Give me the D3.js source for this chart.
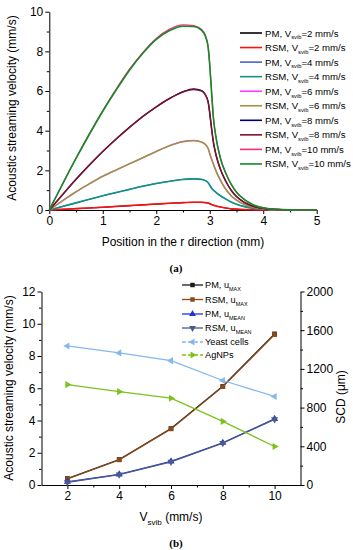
<!DOCTYPE html>
<html>
<head>
<meta charset="utf-8">
<script src="https://cdn.jsdelivr.net/npm/d3@7"></script>
<style>
  body { margin: 0; background: #fff; }
  svg { display: block; font-family: "Liberation Sans", Arial, sans-serif; }
  .axis path, .axis line { stroke: #000; }
  .axis text { font-size: 12px; fill: #000; font-family: "Liberation Sans", Arial, sans-serif; }
</style>
</head>
<body>
<svg id="fig" width="353" height="550"></svg>
<script>
// ---- panel (a): streaming velocity along r ----
var rPositions = [0, 0.25, 0.5, 0.75, 1, 1.25, 1.5, 1.75, 2, 2.25, 2.5, 2.7, 2.85, 2.92, 2.97, 3.0, 3.03, 3.07, 3.12, 3.2, 3.3, 3.4, 3.5, 3.65, 3.8, 4.0, 4.2, 4.5, 5];
var pm2   = [0, 0.03, 0.07, 0.10, 0.14, 0.18, 0.22, 0.26, 0.30, 0.34, 0.37, 0.39, 0.39, 0.37, 0.35, 0.32, 0.28, 0.24, 0.20, 0.15, 0.10, 0.06, 0.04, 0.02, 0.01, 0, 0, 0, 0];
var rsm2  = [0, 0.03, 0.07, 0.10, 0.14, 0.18, 0.22, 0.26, 0.30, 0.34, 0.37, 0.39, 0.39, 0.37, 0.35, 0.32, 0.28, 0.24, 0.20, 0.15, 0.10, 0.06, 0.04, 0.02, 0.01, 0, 0, 0, 0];
var pm4   = [0, 0.18, 0.36, 0.54, 0.72, 0.88, 1.04, 1.20, 1.34, 1.45, 1.55, 1.58, 1.55, 1.48, 1.38, 1.25, 1.12, 1.00, 0.88, 0.72, 0.55, 0.40, 0.29, 0.17, 0.09, 0.04, 0.01, 0, 0];
var rsm4  = [0, 0.18, 0.36, 0.54, 0.72, 0.88, 1.04, 1.20, 1.34, 1.45, 1.54, 1.57, 1.54, 1.48, 1.38, 1.25, 1.12, 1.00, 0.88, 0.72, 0.55, 0.40, 0.29, 0.17, 0.09, 0.04, 0.01, 0, 0];
var pm6   = [0, 0.47, 0.92, 1.32, 1.70, 2.02, 2.33, 2.64, 2.95, 3.25, 3.46, 3.51, 3.43, 3.30, 3.10, 2.85, 2.60, 2.30, 1.95, 1.50, 1.05, 0.72, 0.50, 0.28, 0.15, 0.06, 0.02, 0, 0];
var rsm6  = [0, 0.47, 0.92, 1.32, 1.70, 2.02, 2.33, 2.64, 2.95, 3.24, 3.44, 3.49, 3.42, 3.30, 3.10, 2.85, 2.60, 2.30, 1.95, 1.50, 1.05, 0.72, 0.50, 0.28, 0.15, 0.06, 0.02, 0, 0];
var pm8   = [0, 0.78, 1.55, 2.27, 2.95, 3.58, 4.17, 4.72, 5.20, 5.63, 5.97, 6.11, 6.02, 5.80, 5.45, 4.90, 4.20, 3.40, 2.75, 2.05, 1.45, 1.00, 0.68, 0.38, 0.20, 0.08, 0.03, 0.005, 0];
var rsm8  = [0, 0.78, 1.55, 2.27, 2.95, 3.58, 4.17, 4.72, 5.20, 5.62, 5.95, 6.08, 6.00, 5.80, 5.45, 4.90, 4.20, 3.40, 2.75, 2.05, 1.45, 1.00, 0.68, 0.38, 0.20, 0.08, 0.03, 0.005, 0];
var pm10  = [0, 1.32, 2.62, 3.85, 5.01, 6.10, 7.10, 7.95, 8.65, 9.12, 9.34, 9.30, 9.10, 8.80, 8.25, 7.35, 6.15, 4.65, 3.65, 2.62, 1.86, 1.30, 0.90, 0.52, 0.28, 0.11, 0.04, 0.005, 0];
var rsm10 = [0, 1.32, 2.60, 3.82, 4.98, 6.05, 7.05, 7.90, 8.60, 9.05, 9.27, 9.25, 9.05, 8.75, 8.20, 7.30, 6.10, 4.60, 3.60, 2.60, 1.85, 1.30, 0.90, 0.52, 0.28, 0.11, 0.04, 0.005, 0];
var velocityLabels = ["2", "2", "4", "4", "6", "6", "8", "8", "10", "10"];
var methodLabels = ["PM", "RSM", "PM", "RSM", "PM", "RSM", "PM", "RSM", "PM", "RSM"];
var profileColors = ["#000000", "#ff1010", "#4a63c8", "#0f9484", "#ff40ff", "#a09048", "#00007a", "#7c1428", "#ff2a78", "#148a2a"];
var profiles = [pm2, rsm2, pm4, rsm4, pm6, rsm6, pm8, rsm8, pm10, rsm10];
var rTicks = [0, 1, 2, 3, 4, 5];
var velTicksA = [0, 2, 4, 6, 8, 10];

// ---- panel (b): summary against V_svib ----
var vsvib = [2, 4, 6, 8, 10];
var pmUMax   = [0.40, 1.58, 3.50, 6.12, 9.37];
var rsmUMax  = [0.38, 1.56, 3.48, 6.10, 9.33];
var pmUMean  = [0.20, 0.66, 1.46, 2.62, 4.10];
var rsmUMean = [0.17, 0.64, 1.44, 2.60, 4.07];
var yeastSCD = [1437, 1365, 1285, 1080, 915];
var agnpsSCD = [1038, 965, 897, 657, 398];
var vsvibTicks = [2, 4, 6, 8, 10];
var velTicksB = [0, 2, 4, 6, 8, 10, 12];
var scdTicks = [0, 400, 800, 1200, 1600, 2000];

var svg = d3.select("#fig");

function minorTicks(lo, hi, step) {
    return d3.range(lo, hi + step / 2, step);
}

// draw sub-scripted label "<pre>V<sub>svib</sub><post>"
function subText(sel, pre, sub, post, size, subSize) {
    sel.append("tspan").text(pre);
    sel.append("tspan").attr("font-size", subSize).attr("dy", size * 0.3).text(sub);
    sel.append("tspan").attr("dy", -size * 0.3).text(post);
}

/**
 * Panel (a)
 */
function renderPanelA() {
    var x = d3.scaleLinear().domain([0, 5]).range([49.3, 316.7]);
    var y = d3.scaleLinear().domain([0, 10]).range([210, 11.7]);
    var g = svg.append("g");

    // minor ticks first, then the major axis on top
    g.append("g").attr("class", "axis").attr("transform", "translate(0,210)")
        .call(d3.axisBottom(x).tickValues(minorTicks(0.5, 4.5, 1)).tickSize(2.5).tickFormat(""))
        .select(".domain").remove();
    g.append("g").attr("class", "axis").attr("transform", "translate(49.3,0)")
        .call(d3.axisLeft(y).tickValues(minorTicks(1, 9, 2)).tickSize(2.5).tickFormat(""))
        .select(".domain").remove();
    g.append("g").attr("class", "axis").attr("transform", "translate(0,210)")
        .call(d3.axisBottom(x).tickValues(rTicks).tickSize(4).tickSizeOuter(0).tickPadding(2).tickFormat(d3.format("d")));
    g.append("g").attr("class", "axis").attr("transform", "translate(49.3,0)")
        .call(d3.axisLeft(y).tickValues(velTicksA).tickSize(4).tickSizeOuter(0).tickPadding(2).tickFormat(d3.format("d")));

    var line = d3.line()
        .x(function (d, i) { return x(rPositions[i]); })
        .y(function (d) { return y(d); })
        .curve(d3.curveMonotoneX);

    // RSM curves (odd index) a little wider so they cover the PM curve below
    profiles.forEach(function (vals, k) {
        g.append("path").attr("d", line(vals))
            .attr("fill", "none").attr("stroke", profileColors[k])
            .attr("stroke-width", k % 2 ? 1.6 : 1.2);
    });

    // legend
    var leg = g.append("g");
    profiles.forEach(function (vals, k) {
        var ly = 33 + k * 14.55;
        leg.append("line").attr("x1", 240).attr("x2", 262).attr("y1", ly).attr("y2", ly)
            .attr("stroke", profileColors[k]).attr("stroke-width", 1.6);
        var t = leg.append("text").attr("x", 265).attr("y", ly + 3.5).attr("font-size", 9.6);
        subText(t, methodLabels[k] + ", V", "svib", "=" + velocityLabels[k] + " mm/s", 9.6, 5.8);
    });

    g.append("text").attr("x", 183).attr("y", 246).attr("text-anchor", "middle")
        .attr("font-size", 12).text("Position in the r direction (mm)");
    g.append("text").attr("transform", "translate(16,108) rotate(-90)").attr("text-anchor", "middle")
        .attr("font-size", 12).text("Acoustic streaming velocity (mm/s)");
    g.append("text").attr("x", 176).attr("y", 272).attr("text-anchor", "middle")
        .attr("font-family", "Liberation Serif, serif").attr("font-weight", "bold").attr("font-size", 11).text("(a)");
}

/**
 * Panel (b)
 */
function renderPanelB() {
    var x = d3.scaleLinear().domain([1, 11]).range([41.5, 300.5]);
    var y = d3.scaleLinear().domain([0, 12]).range([485, 291.5]);
    var y2 = d3.scaleLinear().domain([0, 2000]).range([485, 291.5]);
    var g = svg.append("g");

    g.append("g").attr("class", "axis").attr("transform", "translate(0,485)")
        .call(d3.axisBottom(x).tickValues(minorTicks(3, 9, 2)).tickSize(2.5).tickFormat(""))
        .select(".domain").remove();
    g.append("g").attr("class", "axis").attr("transform", "translate(41.5,0)")
        .call(d3.axisLeft(y).tickValues(minorTicks(1, 11, 2)).tickSize(2.5).tickFormat(""))
        .select(".domain").remove();
    g.append("g").attr("class", "axis").attr("transform", "translate(300.5,0)")
        .call(d3.axisRight(y2).tickValues(minorTicks(200, 1800, 400)).tickSize(2.5).tickFormat(""))
        .select(".domain").remove();
    g.append("g").attr("class", "axis").attr("transform", "translate(0,485)")
        .call(d3.axisBottom(x).tickValues(vsvibTicks).tickSize(4).tickSizeOuter(0).tickPadding(2).tickFormat(d3.format("d")));
    g.append("g").attr("class", "axis").attr("transform", "translate(41.5,0)")
        .call(d3.axisLeft(y).tickValues(velTicksB).tickSize(4).tickSizeOuter(0).tickPadding(2).tickFormat(d3.format("d")));
    g.append("g").attr("class", "axis").attr("transform", "translate(300.5,0)")
        .call(d3.axisRight(y2).tickValues(scdTicks).tickSize(4).tickSizeOuter(0).tickPadding(2).tickFormat(d3.format("d")));

    var series = [
        { name: "PM, u", sub: "MAX", vals: pmUMax, scale: y, color: "#1a1a1a", symbol: d3.symbolSquare, rot: 0 },
        { name: "RSM, u", sub: "MAX", vals: rsmUMax, scale: y, color: "#8a4a1a", symbol: d3.symbolSquare, rot: 0 },
        { name: "PM, u", sub: "MEAN", vals: pmUMean, scale: y, color: "#2233cc", symbol: d3.symbolTriangle, rot: 0 },
        { name: "RSM, u", sub: "MEAN", vals: rsmUMean, scale: y, color: "#4a5a8c", symbol: d3.symbolTriangle, rot: 180 },
        { name: "Yeast cells", sub: "", vals: yeastSCD, scale: y2, color: "#86b8ee", symbol: d3.symbolTriangle, rot: -90, dash: true },
        { name: "AgNPs", sub: "", vals: agnpsSCD, scale: y2, color: "#7cc21e", symbol: d3.symbolTriangle, rot: 90, dash: true }
    ];

    series.forEach(function (s) {
        var line = d3.line()
            .x(function (d, i) { return x(vsvib[i]); })
            .y(function (d) { return s.scale(d); });
        g.append("path").attr("d", line(s.vals)).attr("fill", "none")
            .attr("stroke", s.color).attr("stroke-width", 1.3);
        g.selectAll(null).data(s.vals).enter().append("path")
            .attr("d", d3.symbol().type(s.symbol).size(22))
            .attr("transform", function (d, i) {
                return "translate(" + x(vsvib[i]) + "," + s.scale(d) + ") rotate(" + s.rot + ")";
            })
            .attr("fill", s.color);
    });

    // legend
    var legY = [285, 299.5, 314, 328, 342, 355];
    series.forEach(function (s, k) {
        var ly = legY[k];
        g.append("line").attr("x1", 182).attr("x2", 203).attr("y1", ly).attr("y2", ly)
            .attr("stroke", s.color).attr("stroke-width", 1.3)
            .attr("stroke-dasharray", s.dash ? "4,2" : null);
        g.append("path").attr("d", d3.symbol().type(s.symbol).size(20))
            .attr("transform", "translate(192.5," + ly + ") rotate(" + s.rot + ")")
            .attr("fill", s.color);
        var t = g.append("text").attr("x", 205).attr("y", ly + 3.3).attr("font-size", 9.2);
        if (s.sub) {
            subText(t, s.name, s.sub, "", 9.2, 5.5);
        } else {
            t.text(s.name);
        }
    });

    var xl = g.append("text").attr("x", 171).attr("y", 521).attr("text-anchor", "middle").attr("font-size", 12);
    subText(xl, "V", "svib", " (mm/s)", 12, 8);
    g.append("text").attr("transform", "translate(13,388) rotate(-90)").attr("text-anchor", "middle")
        .attr("font-size", 12).text("Acoustic streaming velocity (mm/s)");
    g.append("text").attr("transform", "translate(345,397) rotate(-90)").attr("text-anchor", "middle")
        .attr("font-size", 12).text("SCD (\u03bcm)");
    g.append("text").attr("x", 176).attr("y", 547).attr("text-anchor", "middle")
        .attr("font-family", "Liberation Serif, serif").attr("font-weight", "bold").attr("font-size", 11).text("(b)");
}

renderPanelA();
renderPanelB();
</script>
</body>
</html>
